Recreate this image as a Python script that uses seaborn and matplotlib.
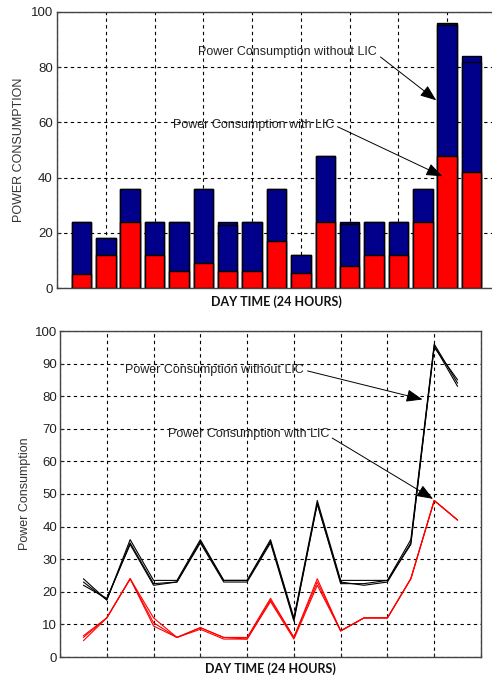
import numpy as np
import pandas as pd
import matplotlib
matplotlib.use("Agg")
import matplotlib.pyplot as plt
import seaborn as sns

# ---------------- data ----------------
hours = list(range(1, 18))
with_lic = [5, 12, 24, 12, 6, 9, 6, 6, 17, 5.5, 24, 8, 12, 12, 24, 48, 42]
without_lic = [24, 18, 36, 24, 24, 36, 24, 24, 36, 12, 48, 24, 24, 24, 36, 96, 84]
without_lic_inner = [24, 18, 36, 24, 24, 36, 23, 24, 36, 12, 48, 23.2, 24, 24, 36, 95.2, 82]

black_a = [24, 17.5, 36, 23.5, 23.5, 36, 23.5, 23.5, 36, 12, 48, 23.5, 23.5, 23.5, 36, 96, 84]
black_b = [22, 18, 34.5, 22, 23, 35, 23, 23, 35, 11, 47, 22.5, 22.5, 23.5, 34.5, 95.5, 83]
black_c = [23, 17.5, 35, 22.5, 23, 35.5, 23.5, 23.5, 35.5, 11.5, 47, 23, 22, 23, 35, 95, 85]
red_a = [5, 12, 24, 12, 6, 9, 6, 6, 18, 6, 24, 8, 12, 12, 24, 48, 42]
red_b = [6.5, 12, 24, 9.5, 6, 8.5, 5.5, 5.5, 17, 5.5, 22, 8, 12, 12, 24, 48, 42]
red_c = [6, 12, 24, 10.5, 6, 9, 6, 5.5, 17.5, 6, 23, 8, 12, 12, 24, 48, 42]

xticks = [0, 2, 4, 6, 8, 10, 12, 14, 16, 18]
yticks_top = [0, 20, 40, 60, 80, 100]
yticks_bot = [0, 10, 20, 30, 40, 50, 60, 70, 80, 90, 100]
label_without = "Power Consumption without LIC"
label_with = "Power Consumption with LIC"

# ---------------- style ----------------
sns.set_style("ticks")
plt.rcParams["font.family"] = ["Liberation Sans", "DejaVu Sans"]
plt.rcParams["axes.edgecolor"] = "#444444"
plt.rcParams["axes.linewidth"] = 1.0

NAVY = "#00008B"
RED = "#FF0000"

fig = plt.figure(figsize=(4.92, 6.79), dpi=100)
ax1 = fig.add_axes([57 / 492, 1 - 288 / 679, (496 - 57) / 492, (288 - 12) / 679])
ax2 = fig.add_axes([60 / 492, 1 - 657 / 679, (481 - 60) / 492, (657 - 331) / 679])

grid_kw = dict(color="black", linestyle=(0, (3, 3)), linewidth=0.8)

# ---------------- top: stacked bars ----------------
df = pd.DataFrame({"hour": hours, "with": with_lic, "without": without_lic,
                   "inner": without_lic_inner})
ax1.set_axisbelow(True)
ax1.grid(True, **grid_kw)
sns.barplot(data=df, x="hour", y="without", native_scale=True, color=NAVY,
            saturation=1, width=0.8, edgecolor="black", linewidth=1.0, ax=ax1)
sns.barplot(data=df, x="hour", y="inner", native_scale=True, color=NAVY,
            saturation=1, width=0.8, edgecolor="black", linewidth=1.0, ax=ax1)
sns.barplot(data=df, x="hour", y="with", native_scale=True, color=RED,
            saturation=1, width=0.8, edgecolor="black", linewidth=1.0, ax=ax1)
ax1.set_xlim(0, 18)
ax1.set_ylim(0, 100)
ax1.set_xticks(xticks)
ax1.set_xticklabels([])
ax1.set_yticks(yticks_top)
ax1.set_yticklabels([str(v) for v in yticks_top], fontsize=9.5, color="#222222")
ax1.tick_params(direction="in", length=3, pad=3)
ax1.set_ylabel("POWER CONSUMPTION", fontsize=9, color="#333333", labelpad=4)
ax1.set_xlabel("DAY TIME (24 HOURS)", fontsize=9, fontweight="bold",
               family=["Lato", "DejaVu Sans"], labelpad=2.5, color="#111111")
for s in ax1.spines.values():
    s.set_visible(True)

arrow_kw = dict(arrowstyle="-|>,head_length=0.9,head_width=0.35", color="black",
                lw=0.7, shrinkA=0, shrinkB=0, mutation_scale=11)
ax1.annotate(label_without, xy=(15.55, 68), xytext=(5.8, 85.5),
             ha="left", va="center", fontsize=9, color="#222222",
             arrowprops=dict(relpos=(1, 0.3), **arrow_kw))
ax1.annotate(label_with, xy=(15.8, 40.5), xytext=(4.75, 59),
             ha="left", va="center", fontsize=9, color="#222222",
             arrowprops=dict(relpos=(1, 0.5), **arrow_kw))

# ---------------- bottom: lines ----------------
ax2.set_axisbelow(True)
ax2.grid(True, **grid_kw)
for series in (black_a, black_b, black_c):
    sns.lineplot(x=hours, y=series, color="black", linewidth=0.8, ax=ax2)
for series in (red_a, red_b, red_c):
    sns.lineplot(x=hours, y=series, color=RED, linewidth=0.8, ax=ax2)
ax2.set_xlim(0, 18)
ax2.set_ylim(0, 100)
ax2.set_xticks(xticks)
ax2.set_xticklabels([])
ax2.set_yticks(yticks_bot)
ax2.set_yticklabels([str(v) for v in yticks_bot], fontsize=9.5, color="#222222")
ax2.tick_params(direction="in", length=3, pad=2)
ax2.set_ylabel("Power Consumption", fontsize=9, color="#333333", labelpad=3)
ax2.set_xlabel("DAY TIME (24 HOURS)", fontsize=9, fontweight="bold",
               family=["Lato", "DejaVu Sans"], labelpad=2, color="#111111")
for s in ax2.spines.values():
    s.set_visible(True)

ax2.annotate(label_without, xy=(15.5, 79), xytext=(2.8, 88),
             ha="left", va="center", fontsize=9, color="#222222",
             arrowprops=dict(relpos=(1, 0.5), **arrow_kw))
ax2.annotate(label_with, xy=(15.95, 48.5), xytext=(4.6, 68.5),
             ha="left", va="center", fontsize=9, color="#222222",
             arrowprops=dict(relpos=(1, 0.3), **arrow_kw))

fig.savefig("out.png", dpi=100)
